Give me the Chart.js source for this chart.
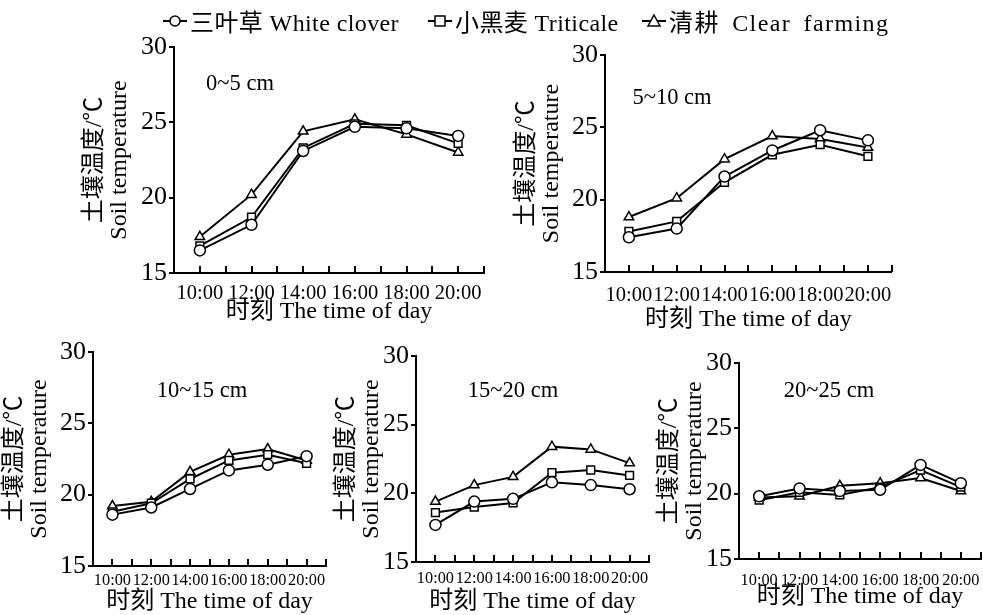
<!DOCTYPE html>
<html>
<head>
<meta charset="utf-8">
<script src="https://cdn.jsdelivr.net/npm/chart.js@4.4.0/dist/chart.umd.min.js"></script>
<style>
body { margin:0; background:#fff; width:983px; height:615px; overflow:hidden; position:relative;
       font-family:"Liberation Serif","Noto Sans CJK SC",serif; color:#000; }
canvas { position:absolute; }
.lbl { position:absolute; font-size:22.5px; transform:translate(-50%,-50%); white-space:nowrap; }
.leg { position:absolute; top:3px; font-size:24px; letter-spacing:0.4px; display:flex; align-items:center; white-space:nowrap; }
.leg svg { margin-right:3px; }
</style>
</head>
<body>
<script>
// 数据
const times = ['10:00', '12:00', '14:00', '16:00', '18:00', '20:00'];
const seriesNames = ['三叶草 White clover', '小黑麦 Triticale', '清耕 Clear farming'];
const seriesMarkers = ['circle', 'rect', 'triangle'];
const depths = ['0~5 cm', '5~10 cm', '10~15 cm', '15~20 cm', '20~25 cm'];

const clover_0_5    = [16.5, 18.2, 23.1, 24.7, 24.6, 24.1];
const triticale_0_5 = [16.8, 18.7, 23.3, 24.9, 24.8, 23.6];
const clear_0_5     = [17.4, 20.2, 24.4, 25.2, 24.2, 23.0];

const clover_5_10    = [17.4, 18.0, 21.6, 23.4, 24.8, 24.1];
const triticale_5_10 = [17.8, 18.5, 21.2, 23.1, 23.8, 23.0];
const clear_5_10     = [18.8, 20.1, 22.8, 24.4, 24.2, 23.6];

const clover_10_15    = [18.6, 19.1, 20.4, 21.7, 22.1, 22.7];
const triticale_10_15 = [18.8, 19.4, 21.1, 22.4, 22.8, 22.2];
const clear_10_15     = [19.2, 19.5, 21.6, 22.8, 23.2, 22.4];

const clover_15_20    = [17.7, 19.4, 19.6, 20.8, 20.6, 20.3];
const triticale_15_20 = [18.6, 19.0, 19.3, 21.5, 21.7, 21.3];
const clear_15_20     = [19.4, 20.6, 21.2, 23.4, 23.2, 22.2];

const clover_20_25    = [19.8, 20.4, 20.2, 20.3, 22.2, 20.8];
const triticale_20_25 = [19.5, 20.1, 19.9, 20.5, 21.8, 20.5];
const clear_20_25     = [19.7, 19.8, 20.6, 20.8, 21.2, 20.2];

const cloverAll    = [clover_0_5, clover_5_10, clover_10_15, clover_15_20, clover_20_25];
const triticaleAll = [triticale_0_5, triticale_5_10, triticale_10_15, triticale_15_20, triticale_20_25];
const clearAll     = [clear_0_5, clear_5_10, clear_10_15, clear_15_20, clear_20_25];
const allSeries = [cloverAll, triticaleAll, clearAll];

// 各子图位置 (绘图区像素)
const panels = [
    {L: 174, T: 47,  R: 484, B: 273, tickSize: 20.5, tickOff: 20, titleOff: 39, yGap: 79, lx: 240, ly: 83},
    {L: 605, T: 55,  R: 892, B: 272, tickSize: 20.5, tickOff: 23, titleOff: 48, yGap: 78, lx: 672, ly: 97},
    {L: 93,  T: 352, R: 326, B: 566, tickSize: 16.3, tickOff: 14, titleOff: 36, yGap: 78, lx: 202, ly: 390},
    {L: 416, T: 356, R: 649, B: 562, tickSize: 16.3, tickOff: 16, titleOff: 40, yGap: 69, lx: 513, ly: 390},
    {L: 739, T: 363, R: 981, B: 559, tickSize: 16.3, tickOff: 21, titleOff: 38, yGap: 69, lx: 829, ly: 390}
];

Chart.defaults.font.family = '"Liberation Serif", "Noto Sans CJK SC", serif';
Chart.defaults.color = '#000';

// x轴向内的刻度线
const innerTicks = {
    id: 'innerTicks',
    afterDraw(chart) {
        const {ctx, chartArea, scales: {x}} = chart;
        ctx.save();
        ctx.strokeStyle = '#000';
        ctx.lineWidth = 2;
        for (let v = 0; v <= times.length - 0.5; v += 0.5) {
            const px = Math.round(x.getPixelForValue(v));
            ctx.beginPath();
            ctx.moveTo(px, chartArea.bottom);
            ctx.lineTo(px, chartArea.bottom - 7);
            ctx.stroke();
        }
        ctx.restore();
    }
};

function makeChart(p, idx) {
    const W = 100, H = 70, padTop = 20, padRight = 12;
    const cv = document.createElement('canvas');
    cv.width = (p.R - p.L) + W + padRight;
    cv.height = (p.B - p.T) + padTop + H;
    cv.style.left = (p.L - W) + 'px';
    cv.style.top = (p.T - padTop) + 'px';
    document.body.appendChild(cv);

    new Chart(cv, {
        type: 'line',
        data: {
            labels: times,
            datasets: allSeries.map((s, i) => ({
                label: seriesNames[i],
                data: s[idx],
                borderColor: '#000',
                borderWidth: 2,
                tension: 0,
                pointStyle: seriesMarkers[i],
                pointRadius: 5.5,
                pointBorderWidth: 1.5,
                pointBackgroundColor: '#fff',
                pointBorderColor: '#000'
            }))
        },
        options: {
            responsive: false,
            animation: false,
            layout: {padding: {top: padTop, right: padRight, left: 0, bottom: 0}},
            plugins: {legend: {display: false}, tooltip: {enabled: false}},
            scales: {
                x: {
                    offset: true,
                    grid: {display: false, drawTicks: false},
                    border: {color: '#000', width: 2},
                    ticks: {font: {size: p.tickSize}, color: '#000', padding: p.tickOff - 0.55 * p.tickSize,
                            maxRotation: 0, autoSkip: false},
                    title: {display: true, text: '时刻 The time of day', color: '#000',
                            font: {size: 24, lineHeight: 1.2},
                            padding: {top: 0, bottom: H - p.titleOff - 14.4}},
                    afterFit: s => { s.height = H; }
                },
                y: {
                    min: 15, max: 30,
                    ticks: {stepSize: 5, font: {size: 26}, color: '#000', padding: 2},
                    grid: {drawOnChartArea: false, color: '#000', tickLength: 5, lineWidth: 2},
                    border: {color: '#000', width: 2},
                    title: {display: true, text: ['土壤温度/℃', 'Soil temperature'], color: '#000',
                            font: {size: 24, lineHeight: 1.05},
                            padding: {top: W - p.yGap - 12.6, bottom: 0}},
                    afterFit: s => { s.width = W; }
                }
            }
        },
        plugins: [innerTicks]
    });

    const lbl = document.createElement('div');
    lbl.className = 'lbl';
    lbl.textContent = depths[idx];
    lbl.style.left = p.lx + 'px';
    lbl.style.top = p.ly + 'px';
    document.body.appendChild(lbl);
}

panels.forEach(makeChart);

// 图例
const legendX = [163, 428, 642];
const legendSpacing = ['0.4px', '0.4px', '1.4px'];
const markerSvg = [
    '<circle cx="12" cy="8" r="5" fill="#fff" stroke="#000" stroke-width="1.5"/>',
    '<rect x="7" y="3" width="10" height="10" fill="#fff" stroke="#000" stroke-width="1.5"/>',
    '<polygon points="12,2 18,13 6,13" fill="#fff" stroke="#000" stroke-width="1.5"/>'
];
seriesNames.forEach((name, i) => {
    const d = document.createElement('div');
    d.className = 'leg';
    d.style.left = legendX[i] + 'px';
    d.style.letterSpacing = legendSpacing[i];
    if (i === 2) d.style.wordSpacing = '5px';
    d.innerHTML = '<svg width="24" height="16"><line x1="0" y1="8" x2="24" y2="8" stroke="#000" stroke-width="2"/>' +
        markerSvg[i] + '</svg><span>' + name + '</span>';
    document.body.appendChild(d);
});
</script>
</body>
</html>
